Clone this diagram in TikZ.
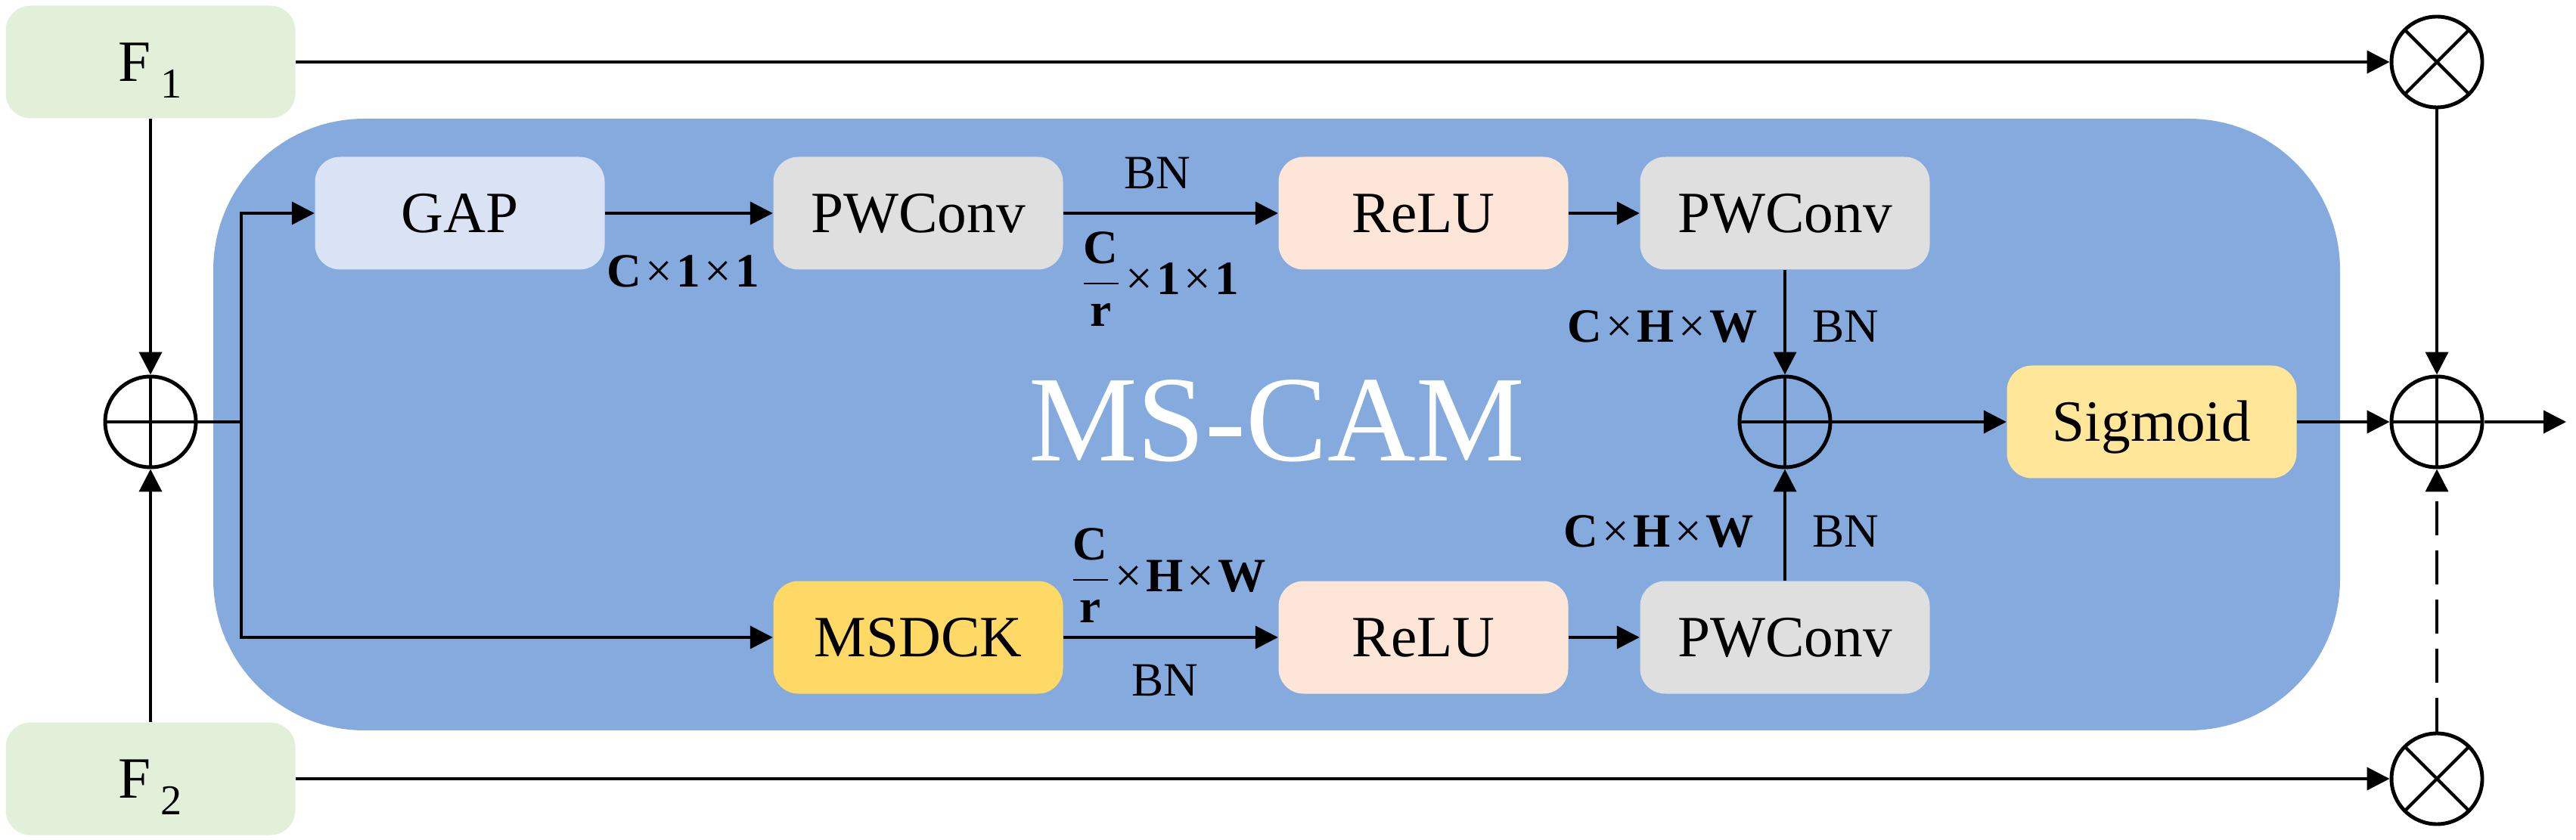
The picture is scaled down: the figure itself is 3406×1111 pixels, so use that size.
\documentclass[tikz,border=0pt]{standalone}
\usepackage{amsmath}
\usepackage{fontspec}
\setmainfont{Liberation Serif}
\usetikzlibrary{arrows.meta}
\definecolor{camblue}{RGB}{132,170,222}
\definecolor{fgreen}{HTML}{E2F0D9}
\definecolor{gapblue}{HTML}{DAE3F3}
\definecolor{pwgray}{HTML}{DFDFDF}
\definecolor{relupeach}{HTML}{FDE6D8}
\definecolor{msdckyel}{HTML}{FFD966}
\definecolor{sigyel}{HTML}{FFE699}
\newcommand{\fsub}[1]{\,\raisebox{-0.28em}{\fontsize{16}{16}\selectfont #1}}
\newcommand{\crs}{\kern1.5pt×\kern1.5pt}
\newcommand{\crfrac}{$\dfrac{\text{\textbf{C}}}{\text{\textbf{r}}}$}
\tikzset{
  blk/.style={rectangle,rounded corners=3.3mm,minimum width=38.3mm,minimum height=14.9mm,inner sep=0pt,font=\fontsize{22}{24}\selectfont,text height=14.6pt,text depth=0pt},
  % Operatorar
  op-add/.style={circle,draw,line width=1.4pt,minimum size=12mm,inner sep=0pt,
    path picture={\draw[line width=1.2pt] (path picture bounding box.north) -- (path picture bounding box.south)
      (path picture bounding box.west) -- (path picture bounding box.east);}},
  op-mul/.style={circle,draw,line width=1.4pt,minimum size=12mm,inner sep=0pt,
    path picture={\draw[line width=1.2pt] (path picture bounding box.north west) -- (path picture bounding box.south east)
      (path picture bounding box.south west) -- (path picture bounding box.north east);}},
  % Kantar
  flow/.style={-{Triangle[length=3mm,width=3mm]},line width=1.1pt},
  flow-d/.style={flow,dash pattern=on 4.5mm off 2mm},
  lbl/.style={font=\fontsize{18}{20}\selectfont,inner sep=0pt,anchor=base},
}
\begin{document}
\begin{tikzpicture}[x=0.1mm,y=-0.1mm]
  \useasboundingbox (0,0) rectangle (3406,1111);
  \node[fill=camblue,rounded corners=20mm,minimum width=281.2mm,minimum height=80.9mm,inner sep=0pt] (cam) at (1688,561.5) {};
  \node[font=\fontsize{46}{50}\selectfont,text=white,inner sep=0pt,anchor=base] (title) at (1688,610) {MS-CAM};

  \node[blk,fill=fgreen] (f1) at (199,82) {F\fsub{1}};
  \node[blk,fill=fgreen] (f2) at (199,1030) {F\fsub{2}};
  \node[op-add] (addl) at (199,558) {};
  \coordinate (split) at (319,558);

  \node[blk,fill=gapblue] (gap) at (608,282) {GAP};
  \node[blk,fill=pwgray] (pw1) at (1214,282) {PWConv};
  \node[blk,fill=relupeach] (relu1) at (1882,282) {ReLU};
  \node[blk,fill=pwgray] (pw2) at (2360,282) {PWConv};
  \node[blk,fill=msdckyel] (msdck) at (1214,843) {MSDCK};
  \node[blk,fill=relupeach] (relu2) at (1882,843) {ReLU};
  \node[blk,fill=pwgray] (pw3) at (2360,843) {PWConv};
  \node[op-add] (addm) at (2360,558) {};
  \node[blk,fill=sigyel] (sig) at (2845,558) {Sigmoid};

  \node[op-mul] (mult) at (3222,82) {};
  \node[op-add] (addr) at (3222,558) {};
  \node[op-mul] (mulb) at (3222,1030) {};
  \coordinate (out) at (3393,558);

  \node[lbl] (dim-a) at (903,380) {\textbf{C}\crs\textbf{1}\crs\textbf{1}};
  \node[lbl] (bn-a) at (1530,250) {BN};
  \node[lbl,anchor=base west] (dim-b) at (1428,390) {\crfrac\crs\textbf{1}\crs\textbf{1}};
  \node[lbl,anchor=base west] (dim-c) at (1414,782) {\crfrac\crs\textbf{H}\crs\textbf{W}};
  \node[lbl] (bn-b) at (1540,920) {BN};
  \node[lbl] (dim-d) at (2198,453) {\textbf{C}\crs\textbf{H}\crs\textbf{W}};
  \node[lbl] (bn-c) at (2440,453) {BN};
  \node[lbl] (dim-e) at (2193,724) {\textbf{C}\crs\textbf{H}\crs\textbf{W}};
  \node[lbl] (bn-d) at (2440,724) {BN};

  \draw[flow] (f1) -- (addl);
  \draw[flow] (f2) -- (addl);
  \draw[line width=1.1pt] (addl) -- (split);
  \draw[flow] (split) |- (gap);
  \draw[flow] (split) |- (msdck);
  \draw[flow] (gap) -- (pw1);
  \draw[flow] (pw1) -- (relu1);
  \draw[flow] (relu1) -- (pw2);
  \draw[flow] (msdck) -- (relu2);
  \draw[flow] (relu2) -- (pw3);
  \draw[flow] (pw2) -- (addm);
  \draw[flow] (pw3) -- (addm);
  \draw[flow] (addm) -- (sig);
  \draw[flow] (sig) -- (addr);
  \draw[flow] (f1) -- (mult);
  \draw[flow] (f2) -- (mulb);
  \draw[flow] (mult) -- (addr);
  \draw[flow-d] (mulb) -- (addr);
  \draw[flow] (addr) -- (out);
\end{tikzpicture}
\end{document}
